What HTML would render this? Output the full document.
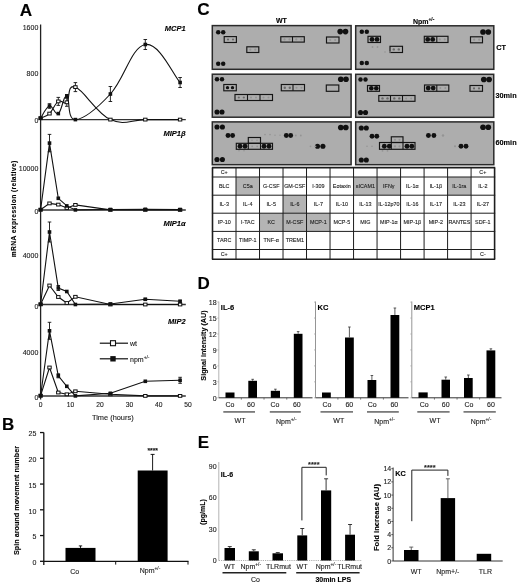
<!DOCTYPE html>
<html><head><meta charset="utf-8"><style>
html,body{margin:0;padding:0;background:#fff;}
svg{display:block;font-family:"Liberation Sans", sans-serif;}
text{stroke-width:0.12px;}
svg{filter:blur(0.4px);}
</style></head><body>
<svg width="520" height="585" viewBox="0 0 520 585">
<text x="25.90" y="15.56" text-anchor="middle" font-size="17.2" font-weight="bold" fill="#000" stroke="#000">A</text>
<line x1="40.60" y1="24.50" x2="40.60" y2="399.50" stroke="#222" stroke-width="1.3"/>
<line x1="40.60" y1="119.60" x2="185.80" y2="119.60" stroke="#333" stroke-width="1.45"/>
<text x="38.30" y="29.51" text-anchor="end" font-size="7.0" fill="#222" stroke="#222">1600</text>
<text x="38.30" y="76.01" text-anchor="end" font-size="7.0" fill="#222" stroke="#222">800</text>
<text x="38.30" y="123.01" text-anchor="end" font-size="7.0" fill="#222" stroke="#222">0</text>
<text x="185.60" y="30.68" text-anchor="end" font-size="7.5" font-weight="bold" font-style="italic" fill="#000" stroke="#000">MCP1</text>
<path d="M40.60,118.20 C42.38,117.28 45.96,116.96 49.50,113.60 C53.04,110.24 54.84,103.66 58.30,101.40 C61.76,99.14 63.38,105.16 66.80,102.30 C70.22,99.44 66.68,83.64 75.40,87.10 C84.12,90.56 96.42,113.10 110.40,119.60 C124.38,126.10 131.36,119.60 145.30,119.60 C159.24,119.60 173.14,119.60 180.10,119.60" fill="none" stroke="#111" stroke-width="1.1"/>
<path d="M40.60,118.20 C42.38,115.76 45.96,106.92 49.50,106.00 C53.04,105.08 54.84,115.60 58.30,113.60 C61.76,111.60 63.38,94.80 66.80,96.00 C70.22,97.20 66.68,120.00 75.40,119.60 C84.12,119.20 96.42,109.02 110.40,94.00 C124.38,78.98 131.36,46.80 145.30,44.50 C159.24,42.20 173.14,74.90 180.10,82.50" fill="none" stroke="#111" stroke-width="1.1"/>
<line x1="49.50" y1="103.70" x2="49.50" y2="108.30" stroke="#111" stroke-width="0.9"/>
<line x1="47.70" y1="103.70" x2="51.30" y2="103.70" stroke="#111" stroke-width="0.9"/>
<line x1="47.70" y1="108.30" x2="51.30" y2="108.30" stroke="#111" stroke-width="0.9"/>
<line x1="66.80" y1="94.50" x2="66.80" y2="97.50" stroke="#111" stroke-width="0.9"/>
<line x1="65.00" y1="94.50" x2="68.60" y2="94.50" stroke="#111" stroke-width="0.9"/>
<line x1="65.00" y1="97.50" x2="68.60" y2="97.50" stroke="#111" stroke-width="0.9"/>
<line x1="110.40" y1="86.50" x2="110.40" y2="101.50" stroke="#111" stroke-width="0.9"/>
<line x1="108.60" y1="86.50" x2="112.20" y2="86.50" stroke="#111" stroke-width="0.9"/>
<line x1="108.60" y1="101.50" x2="112.20" y2="101.50" stroke="#111" stroke-width="0.9"/>
<line x1="145.30" y1="39.50" x2="145.30" y2="49.50" stroke="#111" stroke-width="0.9"/>
<line x1="143.50" y1="39.50" x2="147.10" y2="39.50" stroke="#111" stroke-width="0.9"/>
<line x1="143.50" y1="49.50" x2="147.10" y2="49.50" stroke="#111" stroke-width="0.9"/>
<line x1="180.10" y1="77.50" x2="180.10" y2="87.50" stroke="#111" stroke-width="0.9"/>
<line x1="178.30" y1="77.50" x2="181.90" y2="77.50" stroke="#111" stroke-width="0.9"/>
<line x1="178.30" y1="87.50" x2="181.90" y2="87.50" stroke="#111" stroke-width="0.9"/>
<line x1="58.30" y1="97.40" x2="58.30" y2="105.40" stroke="#111" stroke-width="0.9"/>
<line x1="56.50" y1="97.40" x2="60.10" y2="97.40" stroke="#111" stroke-width="0.9"/>
<line x1="56.50" y1="105.40" x2="60.10" y2="105.40" stroke="#111" stroke-width="0.9"/>
<line x1="66.80" y1="98.30" x2="66.80" y2="106.30" stroke="#111" stroke-width="0.9"/>
<line x1="65.00" y1="98.30" x2="68.60" y2="98.30" stroke="#111" stroke-width="0.9"/>
<line x1="65.00" y1="106.30" x2="68.60" y2="106.30" stroke="#111" stroke-width="0.9"/>
<line x1="75.40" y1="82.60" x2="75.40" y2="91.60" stroke="#111" stroke-width="0.9"/>
<line x1="73.60" y1="82.60" x2="77.20" y2="82.60" stroke="#111" stroke-width="0.9"/>
<line x1="73.60" y1="91.60" x2="77.20" y2="91.60" stroke="#111" stroke-width="0.9"/>
<rect x="38.90" y="116.80" width="3.40" height="2.80" fill="#fff" stroke="#111" stroke-width="1.0"/>
<rect x="47.80" y="112.20" width="3.40" height="2.80" fill="#fff" stroke="#111" stroke-width="1.0"/>
<rect x="56.60" y="100.00" width="3.40" height="2.80" fill="#fff" stroke="#111" stroke-width="1.0"/>
<rect x="65.10" y="100.90" width="3.40" height="2.80" fill="#fff" stroke="#111" stroke-width="1.0"/>
<rect x="73.70" y="85.70" width="3.40" height="2.80" fill="#fff" stroke="#111" stroke-width="1.0"/>
<rect x="108.70" y="118.20" width="3.40" height="2.80" fill="#fff" stroke="#111" stroke-width="1.0"/>
<rect x="143.60" y="118.20" width="3.40" height="2.80" fill="#fff" stroke="#111" stroke-width="1.0"/>
<rect x="178.40" y="118.20" width="3.40" height="2.80" fill="#fff" stroke="#111" stroke-width="1.0"/>
<rect x="38.80" y="116.40" width="3.60" height="3.60" fill="#111"/>
<rect x="47.70" y="104.20" width="3.60" height="3.60" fill="#111"/>
<rect x="56.50" y="111.80" width="3.60" height="3.60" fill="#111"/>
<rect x="65.00" y="94.20" width="3.60" height="3.60" fill="#111"/>
<rect x="73.60" y="117.80" width="3.60" height="3.60" fill="#111"/>
<rect x="108.60" y="92.20" width="3.60" height="3.60" fill="#111"/>
<rect x="143.50" y="42.70" width="3.60" height="3.60" fill="#111"/>
<rect x="178.30" y="80.70" width="3.60" height="3.60" fill="#111"/>
<line x1="40.60" y1="209.90" x2="185.80" y2="209.90" stroke="#333" stroke-width="1.45"/>
<text x="38.30" y="170.76" text-anchor="end" font-size="7.0" fill="#222" stroke="#222">10000</text>
<text x="38.30" y="213.51" text-anchor="end" font-size="7.0" fill="#222" stroke="#222">0</text>
<text x="185.60" y="135.99" text-anchor="end" font-size="7.5" font-weight="bold" font-style="italic" fill="#000" stroke="#000">MIP1β</text>
<path d="M40.60,209.70 L49.50,203.40 L58.30,204.60 L66.80,208.00 L75.40,204.90 L110.40,209.90 L145.30,209.90 L180.10,209.90" fill="none" stroke="#111" stroke-width="1.1"/>
<path d="M40.60,209.70 L49.50,143.10 L58.30,198.30 L66.80,205.90 L75.40,209.90 L110.40,209.50 L145.30,209.30 L180.10,209.50" fill="none" stroke="#111" stroke-width="1.1"/>
<line x1="49.50" y1="134.40" x2="49.50" y2="151.80" stroke="#111" stroke-width="0.9"/>
<line x1="47.70" y1="134.40" x2="51.30" y2="134.40" stroke="#111" stroke-width="0.9"/>
<line x1="47.70" y1="151.80" x2="51.30" y2="151.80" stroke="#111" stroke-width="0.9"/>
<rect x="38.90" y="208.30" width="3.40" height="2.80" fill="#fff" stroke="#111" stroke-width="1.0"/>
<rect x="47.80" y="202.00" width="3.40" height="2.80" fill="#fff" stroke="#111" stroke-width="1.0"/>
<rect x="56.60" y="203.20" width="3.40" height="2.80" fill="#fff" stroke="#111" stroke-width="1.0"/>
<rect x="65.10" y="206.60" width="3.40" height="2.80" fill="#fff" stroke="#111" stroke-width="1.0"/>
<rect x="73.70" y="203.50" width="3.40" height="2.80" fill="#fff" stroke="#111" stroke-width="1.0"/>
<rect x="108.70" y="208.50" width="3.40" height="2.80" fill="#fff" stroke="#111" stroke-width="1.0"/>
<rect x="143.60" y="208.50" width="3.40" height="2.80" fill="#fff" stroke="#111" stroke-width="1.0"/>
<rect x="178.40" y="208.50" width="3.40" height="2.80" fill="#fff" stroke="#111" stroke-width="1.0"/>
<rect x="38.80" y="207.90" width="3.60" height="3.60" fill="#111"/>
<rect x="47.70" y="141.30" width="3.60" height="3.60" fill="#111"/>
<rect x="56.50" y="196.50" width="3.60" height="3.60" fill="#111"/>
<rect x="65.00" y="204.10" width="3.60" height="3.60" fill="#111"/>
<rect x="73.60" y="208.10" width="3.60" height="3.60" fill="#111"/>
<rect x="108.60" y="207.70" width="3.60" height="3.60" fill="#111"/>
<rect x="143.50" y="207.50" width="3.60" height="3.60" fill="#111"/>
<rect x="178.30" y="207.70" width="3.60" height="3.60" fill="#111"/>
<line x1="40.60" y1="304.50" x2="185.80" y2="304.50" stroke="#333" stroke-width="1.45"/>
<text x="38.30" y="258.26" text-anchor="end" font-size="7.0" fill="#222" stroke="#222">4000</text>
<text x="38.30" y="308.51" text-anchor="end" font-size="7.0" fill="#222" stroke="#222">0</text>
<text x="185.60" y="226.49" text-anchor="end" font-size="7.5" font-weight="bold" font-style="italic" fill="#000" stroke="#000">MIP1α</text>
<path d="M40.60,304.30 L49.50,285.50 L58.30,297.00 L66.80,303.00 L75.40,296.80 L110.40,304.50 L145.30,304.50 L180.10,304.50" fill="none" stroke="#111" stroke-width="1.1"/>
<path d="M40.60,304.30 L49.50,232.00 L58.30,288.00 L66.80,291.50 L75.40,304.50 L110.40,304.00 L145.30,299.30 L180.10,301.30" fill="none" stroke="#111" stroke-width="1.1"/>
<line x1="49.50" y1="222.00" x2="49.50" y2="242.00" stroke="#111" stroke-width="0.9"/>
<line x1="47.70" y1="222.00" x2="51.30" y2="222.00" stroke="#111" stroke-width="0.9"/>
<line x1="47.70" y1="242.00" x2="51.30" y2="242.00" stroke="#111" stroke-width="0.9"/>
<line x1="58.30" y1="285.50" x2="58.30" y2="290.50" stroke="#111" stroke-width="0.9"/>
<line x1="56.50" y1="285.50" x2="60.10" y2="285.50" stroke="#111" stroke-width="0.9"/>
<line x1="56.50" y1="290.50" x2="60.10" y2="290.50" stroke="#111" stroke-width="0.9"/>
<line x1="145.30" y1="298.30" x2="145.30" y2="300.30" stroke="#111" stroke-width="0.9"/>
<line x1="143.50" y1="298.30" x2="147.10" y2="298.30" stroke="#111" stroke-width="0.9"/>
<line x1="143.50" y1="300.30" x2="147.10" y2="300.30" stroke="#111" stroke-width="0.9"/>
<line x1="180.10" y1="300.30" x2="180.10" y2="302.30" stroke="#111" stroke-width="0.9"/>
<line x1="178.30" y1="300.30" x2="181.90" y2="300.30" stroke="#111" stroke-width="0.9"/>
<line x1="178.30" y1="302.30" x2="181.90" y2="302.30" stroke="#111" stroke-width="0.9"/>
<rect x="38.90" y="302.90" width="3.40" height="2.80" fill="#fff" stroke="#111" stroke-width="1.0"/>
<rect x="47.80" y="284.10" width="3.40" height="2.80" fill="#fff" stroke="#111" stroke-width="1.0"/>
<rect x="56.60" y="295.60" width="3.40" height="2.80" fill="#fff" stroke="#111" stroke-width="1.0"/>
<rect x="65.10" y="301.60" width="3.40" height="2.80" fill="#fff" stroke="#111" stroke-width="1.0"/>
<rect x="73.70" y="295.40" width="3.40" height="2.80" fill="#fff" stroke="#111" stroke-width="1.0"/>
<rect x="108.70" y="303.10" width="3.40" height="2.80" fill="#fff" stroke="#111" stroke-width="1.0"/>
<rect x="143.60" y="303.10" width="3.40" height="2.80" fill="#fff" stroke="#111" stroke-width="1.0"/>
<rect x="178.40" y="303.10" width="3.40" height="2.80" fill="#fff" stroke="#111" stroke-width="1.0"/>
<rect x="38.80" y="302.50" width="3.60" height="3.60" fill="#111"/>
<rect x="47.70" y="230.20" width="3.60" height="3.60" fill="#111"/>
<rect x="56.50" y="286.20" width="3.60" height="3.60" fill="#111"/>
<rect x="65.00" y="289.70" width="3.60" height="3.60" fill="#111"/>
<rect x="73.60" y="302.70" width="3.60" height="3.60" fill="#111"/>
<rect x="108.60" y="302.20" width="3.60" height="3.60" fill="#111"/>
<rect x="143.50" y="297.50" width="3.60" height="3.60" fill="#111"/>
<rect x="178.30" y="299.50" width="3.60" height="3.60" fill="#111"/>
<line x1="40.60" y1="395.90" x2="185.80" y2="395.90" stroke="#333" stroke-width="1.45"/>
<text x="38.30" y="355.01" text-anchor="end" font-size="7.0" fill="#222" stroke="#222">4000</text>
<text x="38.30" y="400.01" text-anchor="end" font-size="7.0" fill="#222" stroke="#222">0</text>
<text x="185.60" y="323.99" text-anchor="end" font-size="7.5" font-weight="bold" font-style="italic" fill="#000" stroke="#000">MIP2</text>
<path d="M40.60,395.70 L49.50,367.50 L58.30,392.50 L66.80,394.30 L75.40,391.30 L110.40,394.30 L145.30,395.90 L180.10,395.90" fill="none" stroke="#111" stroke-width="1.1"/>
<path d="M40.60,395.70 L49.50,330.80 L58.30,375.80 L66.80,386.30 L75.40,395.90 L110.40,393.30 L145.30,381.30 L180.10,380.30" fill="none" stroke="#111" stroke-width="1.1"/>
<line x1="49.50" y1="322.30" x2="49.50" y2="339.30" stroke="#111" stroke-width="0.9"/>
<line x1="47.70" y1="322.30" x2="51.30" y2="322.30" stroke="#111" stroke-width="0.9"/>
<line x1="47.70" y1="339.30" x2="51.30" y2="339.30" stroke="#111" stroke-width="0.9"/>
<line x1="58.30" y1="373.80" x2="58.30" y2="377.80" stroke="#111" stroke-width="0.9"/>
<line x1="56.50" y1="373.80" x2="60.10" y2="373.80" stroke="#111" stroke-width="0.9"/>
<line x1="56.50" y1="377.80" x2="60.10" y2="377.80" stroke="#111" stroke-width="0.9"/>
<line x1="180.10" y1="377.30" x2="180.10" y2="383.30" stroke="#111" stroke-width="0.9"/>
<line x1="178.30" y1="377.30" x2="181.90" y2="377.30" stroke="#111" stroke-width="0.9"/>
<line x1="178.30" y1="383.30" x2="181.90" y2="383.30" stroke="#111" stroke-width="0.9"/>
<rect x="38.90" y="394.30" width="3.40" height="2.80" fill="#fff" stroke="#111" stroke-width="1.0"/>
<rect x="47.80" y="366.10" width="3.40" height="2.80" fill="#fff" stroke="#111" stroke-width="1.0"/>
<rect x="56.60" y="391.10" width="3.40" height="2.80" fill="#fff" stroke="#111" stroke-width="1.0"/>
<rect x="65.10" y="392.90" width="3.40" height="2.80" fill="#fff" stroke="#111" stroke-width="1.0"/>
<rect x="73.70" y="389.90" width="3.40" height="2.80" fill="#fff" stroke="#111" stroke-width="1.0"/>
<rect x="108.70" y="392.90" width="3.40" height="2.80" fill="#fff" stroke="#111" stroke-width="1.0"/>
<rect x="143.60" y="394.50" width="3.40" height="2.80" fill="#fff" stroke="#111" stroke-width="1.0"/>
<rect x="178.40" y="394.50" width="3.40" height="2.80" fill="#fff" stroke="#111" stroke-width="1.0"/>
<rect x="38.80" y="393.90" width="3.60" height="3.60" fill="#111"/>
<rect x="47.70" y="329.00" width="3.60" height="3.60" fill="#111"/>
<rect x="56.50" y="374.00" width="3.60" height="3.60" fill="#111"/>
<rect x="65.00" y="384.50" width="3.60" height="3.60" fill="#111"/>
<rect x="73.60" y="394.10" width="3.60" height="3.60" fill="#111"/>
<rect x="108.60" y="391.50" width="3.60" height="3.60" fill="#111"/>
<rect x="143.50" y="379.50" width="3.60" height="3.60" fill="#111"/>
<rect x="178.30" y="378.50" width="3.60" height="3.60" fill="#111"/>
<text x="40.60" y="406.90" text-anchor="middle" font-size="6.7" fill="#222" stroke="#222">0</text>
<text x="70.50" y="406.90" text-anchor="middle" font-size="6.7" fill="#222" stroke="#222">10</text>
<text x="100.00" y="406.90" text-anchor="middle" font-size="6.7" fill="#222" stroke="#222">20</text>
<text x="129.50" y="406.90" text-anchor="middle" font-size="6.7" fill="#222" stroke="#222">30</text>
<text x="158.80" y="406.90" text-anchor="middle" font-size="6.7" fill="#222" stroke="#222">40</text>
<text x="188.00" y="406.90" text-anchor="middle" font-size="6.7" fill="#222" stroke="#222">50</text>
<text x="112.80" y="419.65" text-anchor="middle" font-size="7.4" fill="#222" stroke="#222">Time (hours)</text>
<text transform="translate(15.70,209.00) rotate(-90)" x="0" y="0" text-anchor="middle" font-size="6.7" font-weight="bold" fill="#000" stroke="#000" textLength="96.5" lengthAdjust="spacing">mRNA expression (relative)</text>
<line x1="99.80" y1="343.20" x2="128.00" y2="343.20" stroke="#111" stroke-width="1.2"/>
<rect x="110.50" y="340.70" width="5.00" height="5.00" fill="#fff" stroke="#111" stroke-width="1.1"/>
<text x="130.00" y="345.51" text-anchor="start" font-size="7.0" fill="#222" stroke="#222">wt</text>
<line x1="99.80" y1="358.80" x2="128.00" y2="358.80" stroke="#111" stroke-width="1.2"/>
<rect x="110.30" y="356.10" width="5.40" height="5.40" fill="#111"/>
<text x="130.00" y="362.01" text-anchor="start" font-size="7.0" fill="#222" stroke="#222">npm<tspan font-size="4.8" dy="-2.7">+/-</tspan></text>
<text x="8.20" y="430.49" text-anchor="middle" font-size="17.0" font-weight="bold" fill="#000" stroke="#000">B</text>
<line x1="43.80" y1="432.50" x2="43.80" y2="565.00" stroke="#111" stroke-width="1.3"/>
<line x1="43.80" y1="561.30" x2="188.50" y2="561.30" stroke="#111" stroke-width="1.3"/>
<line x1="40.00" y1="561.30" x2="43.80" y2="561.30" stroke="#111" stroke-width="1.3"/>
<text x="36.30" y="565.01" text-anchor="end" font-size="7.0" fill="#222" stroke="#222">0</text>
<line x1="40.00" y1="535.55" x2="43.80" y2="535.55" stroke="#111" stroke-width="1.3"/>
<text x="36.30" y="539.26" text-anchor="end" font-size="7.0" fill="#222" stroke="#222">5</text>
<line x1="40.00" y1="509.80" x2="43.80" y2="509.80" stroke="#111" stroke-width="1.3"/>
<text x="36.30" y="513.51" text-anchor="end" font-size="7.0" fill="#222" stroke="#222">10</text>
<line x1="40.00" y1="484.05" x2="43.80" y2="484.05" stroke="#111" stroke-width="1.3"/>
<text x="36.30" y="487.76" text-anchor="end" font-size="7.0" fill="#222" stroke="#222">15</text>
<line x1="40.00" y1="458.30" x2="43.80" y2="458.30" stroke="#111" stroke-width="1.3"/>
<text x="36.30" y="462.01" text-anchor="end" font-size="7.0" fill="#222" stroke="#222">20</text>
<line x1="40.00" y1="432.55" x2="43.80" y2="432.55" stroke="#111" stroke-width="1.3"/>
<text x="36.30" y="436.26" text-anchor="end" font-size="7.0" fill="#222" stroke="#222">25</text>
<line x1="115.70" y1="561.30" x2="115.70" y2="564.60" stroke="#111" stroke-width="1.0"/>
<line x1="188.00" y1="561.30" x2="188.00" y2="564.60" stroke="#111" stroke-width="1.0"/>
<rect x="65.50" y="547.91" width="30.00" height="13.39" fill="#000"/>
<line x1="80.50" y1="547.91" x2="80.50" y2="545.91" stroke="#000" stroke-width="0.9"/>
<line x1="78.80" y1="545.91" x2="82.20" y2="545.91" stroke="#000" stroke-width="0.9"/>
<rect x="137.70" y="470.50" width="29.90" height="90.80" fill="#000"/>
<line x1="152.60" y1="470.50" x2="152.60" y2="454.40" stroke="#000" stroke-width="0.9"/>
<line x1="150.60" y1="454.40" x2="154.60" y2="454.40" stroke="#000" stroke-width="0.9"/>
<text x="152.70" y="453.23" text-anchor="middle" font-size="6.8" font-weight="bold" fill="#111" stroke="#111">****</text>
<text x="74.80" y="573.71" text-anchor="middle" font-size="7.0" fill="#222" stroke="#222">Co</text>
<text x="150.00" y="573.11" text-anchor="middle" font-size="7.0" fill="#222" stroke="#222">Npm<tspan font-size="4.8" dy="-2.7">+/-</tspan></text>
<text transform="translate(19.20,500.50) rotate(-90)" x="0" y="0" text-anchor="middle" font-size="7.25" font-weight="bold" fill="#000" stroke="#000">Spin around movement number</text>
<text x="203.50" y="15.36" text-anchor="middle" font-size="17.2" font-weight="bold" fill="#000" stroke="#000">C</text>
<text x="281.40" y="23.31" text-anchor="middle" font-size="7.0" font-weight="bold" fill="#000" stroke="#000">WT</text>
<text x="413.00" y="23.71" text-anchor="start" font-size="7.0" font-weight="bold" fill="#000" stroke="#000">Npm<tspan font-size="4.8" dy="-2.7">+/-</tspan></text>
<rect x="212.30" y="25.60" width="138.80" height="43.70" fill="#adadad" stroke="#2a2a2a" stroke-width="1.5"/>
<rect x="355.70" y="25.80" width="138.10" height="43.50" fill="#adadad" stroke="#2a2a2a" stroke-width="1.5"/>
<rect x="212.30" y="74.20" width="138.80" height="43.00" fill="#adadad" stroke="#2a2a2a" stroke-width="1.5"/>
<rect x="355.70" y="74.30" width="138.00" height="43.00" fill="#adadad" stroke="#2a2a2a" stroke-width="1.5"/>
<rect x="212.30" y="121.90" width="138.80" height="42.80" fill="#adadad" stroke="#2a2a2a" stroke-width="1.5"/>
<rect x="355.70" y="121.90" width="138.10" height="42.80" fill="#adadad" stroke="#2a2a2a" stroke-width="1.5"/>
<text x="496.20" y="50.11" text-anchor="start" font-size="7.3" font-weight="bold" fill="#000" stroke="#000">CT</text>
<text x="495.50" y="97.61" text-anchor="start" font-size="7.3" font-weight="bold" fill="#000" stroke="#000">30min</text>
<text x="495.50" y="145.01" text-anchor="start" font-size="7.3" font-weight="bold" fill="#000" stroke="#000">60min</text>
<circle cx="218.20" cy="32.20" r="2.24" fill="#111"/>
<circle cx="223.20" cy="32.20" r="2.24" fill="#111"/>
<circle cx="340.20" cy="31.60" r="2.82" fill="#111"/>
<circle cx="345.50" cy="31.60" r="2.82" fill="#111"/>
<circle cx="218.20" cy="63.70" r="2.24" fill="#111"/>
<circle cx="223.20" cy="63.70" r="2.24" fill="#111"/>
<circle cx="228.00" cy="39.50" r="1.10" fill="#6a6a6a"/>
<circle cx="233.00" cy="39.50" r="1.10" fill="#6a6a6a"/>
<rect x="224.20" y="36.60" width="12.20" height="5.90" fill="none" stroke="#141414" stroke-width="1.15"/>
<circle cx="250.30" cy="49.70" r="1.10" fill="#949494"/>
<circle cx="255.30" cy="49.70" r="1.10" fill="#949494"/>
<rect x="246.80" y="46.80" width="12.00" height="5.70" fill="none" stroke="#141414" stroke-width="1.15"/>
<circle cx="284.50" cy="39.40" r="1.10" fill="#949494"/>
<circle cx="289.50" cy="39.40" r="1.10" fill="#949494"/>
<circle cx="296.30" cy="39.40" r="1.10" fill="#949494"/>
<circle cx="301.30" cy="39.40" r="1.10" fill="#949494"/>
<rect x="280.80" y="36.70" width="23.50" height="5.40" fill="none" stroke="#141414" stroke-width="1.15"/>
<line x1="292.50" y1="36.70" x2="292.50" y2="42.10" stroke="#141414" stroke-width="1.1"/>
<circle cx="330.20" cy="40.00" r="1.10" fill="#949494"/>
<circle cx="335.20" cy="40.00" r="1.10" fill="#949494"/>
<rect x="326.50" y="37.00" width="12.50" height="6.00" fill="none" stroke="#141414" stroke-width="1.15"/>
<circle cx="361.80" cy="31.80" r="2.24" fill="#111"/>
<circle cx="366.80" cy="31.80" r="2.24" fill="#111"/>
<circle cx="483.00" cy="32.00" r="2.82" fill="#111"/>
<circle cx="488.30" cy="32.00" r="2.82" fill="#111"/>
<circle cx="361.80" cy="63.00" r="2.24" fill="#111"/>
<circle cx="366.80" cy="63.00" r="2.24" fill="#111"/>
<circle cx="372.00" cy="39.40" r="2.43" fill="#111"/>
<circle cx="377.00" cy="39.40" r="2.43" fill="#111"/>
<rect x="368.00" y="36.30" width="12.50" height="6.20" fill="none" stroke="#141414" stroke-width="1.15"/>
<circle cx="393.80" cy="49.40" r="1.20" fill="#6a6a6a"/>
<circle cx="398.80" cy="49.40" r="1.20" fill="#6a6a6a"/>
<rect x="390.00" y="46.30" width="12.50" height="6.20" fill="none" stroke="#141414" stroke-width="1.15"/>
<circle cx="427.70" cy="39.40" r="2.43" fill="#111"/>
<circle cx="432.70" cy="39.40" r="2.43" fill="#111"/>
<circle cx="439.80" cy="39.40" r="1.10" fill="#949494"/>
<circle cx="444.80" cy="39.40" r="1.10" fill="#949494"/>
<rect x="424.30" y="36.30" width="23.70" height="6.20" fill="none" stroke="#141414" stroke-width="1.15"/>
<line x1="436.80" y1="36.30" x2="436.80" y2="42.50" stroke="#141414" stroke-width="1.1"/>
<circle cx="474.20" cy="39.70" r="1.10" fill="#949494"/>
<circle cx="479.20" cy="39.70" r="1.10" fill="#949494"/>
<rect x="470.50" y="36.80" width="12.00" height="6.00" fill="none" stroke="#141414" stroke-width="1.15"/>
<circle cx="372.50" cy="47.00" r="0.90" fill="#949494"/>
<circle cx="377.50" cy="47.00" r="0.90" fill="#949494"/>
<circle cx="385.00" cy="52.00" r="0.80" fill="#949494"/>
<circle cx="390.00" cy="52.00" r="0.80" fill="#949494"/>
<circle cx="217.00" cy="79.30" r="2.24" fill="#111"/>
<circle cx="222.00" cy="79.30" r="2.24" fill="#111"/>
<circle cx="340.80" cy="79.30" r="2.82" fill="#111"/>
<circle cx="346.00" cy="79.30" r="2.82" fill="#111"/>
<circle cx="217.00" cy="112.00" r="2.56" fill="#111"/>
<circle cx="222.00" cy="112.00" r="2.56" fill="#111"/>
<circle cx="227.50" cy="87.70" r="1.66" fill="#111"/>
<circle cx="232.50" cy="87.70" r="1.66" fill="#111"/>
<rect x="223.80" y="84.50" width="12.50" height="6.30" fill="none" stroke="#141414" stroke-width="1.15"/>
<circle cx="238.80" cy="97.50" r="1.10" fill="#6a6a6a"/>
<circle cx="243.80" cy="97.50" r="1.10" fill="#6a6a6a"/>
<circle cx="251.00" cy="97.50" r="1.00" fill="#949494"/>
<circle cx="256.00" cy="97.50" r="1.00" fill="#949494"/>
<circle cx="263.50" cy="97.50" r="1.00" fill="#949494"/>
<circle cx="268.50" cy="97.50" r="1.00" fill="#949494"/>
<rect x="235.00" y="94.50" width="37.50" height="6.00" fill="none" stroke="#141414" stroke-width="1.15"/>
<line x1="247.50" y1="94.50" x2="247.50" y2="100.50" stroke="#141414" stroke-width="1.1"/>
<line x1="260.00" y1="94.50" x2="260.00" y2="100.50" stroke="#141414" stroke-width="1.1"/>
<circle cx="284.80" cy="87.70" r="1.20" fill="#6a6a6a"/>
<circle cx="289.80" cy="87.70" r="1.20" fill="#6a6a6a"/>
<circle cx="296.50" cy="87.70" r="1.00" fill="#949494"/>
<circle cx="301.50" cy="87.70" r="1.00" fill="#949494"/>
<rect x="281.30" y="84.50" width="23.20" height="6.30" fill="none" stroke="#141414" stroke-width="1.15"/>
<line x1="293.00" y1="84.50" x2="293.00" y2="90.80" stroke="#141414" stroke-width="1.1"/>
<rect x="326.30" y="85.00" width="12.50" height="6.30" fill="none" stroke="#141414" stroke-width="1.15"/>
<circle cx="360.50" cy="79.50" r="2.24" fill="#111"/>
<circle cx="365.50" cy="79.50" r="2.24" fill="#111"/>
<circle cx="483.80" cy="79.50" r="2.82" fill="#111"/>
<circle cx="489.10" cy="79.50" r="2.82" fill="#111"/>
<circle cx="360.50" cy="112.50" r="2.56" fill="#111"/>
<circle cx="365.50" cy="112.50" r="2.56" fill="#111"/>
<circle cx="371.30" cy="88.30" r="2.30" fill="#111"/>
<circle cx="376.30" cy="88.30" r="2.30" fill="#111"/>
<rect x="367.50" y="85.50" width="12.00" height="5.80" fill="none" stroke="#141414" stroke-width="1.15"/>
<circle cx="382.50" cy="98.40" r="1.20" fill="#6a6a6a"/>
<circle cx="387.50" cy="98.40" r="1.20" fill="#6a6a6a"/>
<circle cx="394.30" cy="98.40" r="1.20" fill="#6a6a6a"/>
<circle cx="399.30" cy="98.40" r="1.20" fill="#6a6a6a"/>
<circle cx="406.20" cy="98.40" r="1.00" fill="#949494"/>
<circle cx="411.20" cy="98.40" r="1.00" fill="#949494"/>
<rect x="378.80" y="95.50" width="36.20" height="5.80" fill="none" stroke="#141414" stroke-width="1.15"/>
<line x1="390.50" y1="95.50" x2="390.50" y2="101.30" stroke="#141414" stroke-width="1.1"/>
<line x1="402.50" y1="95.50" x2="402.50" y2="101.30" stroke="#141414" stroke-width="1.1"/>
<circle cx="428.20" cy="88.10" r="2.43" fill="#111"/>
<circle cx="433.20" cy="88.10" r="2.43" fill="#111"/>
<circle cx="440.30" cy="88.10" r="1.00" fill="#949494"/>
<circle cx="445.30" cy="88.10" r="1.00" fill="#949494"/>
<rect x="424.50" y="85.00" width="24.30" height="6.30" fill="none" stroke="#141414" stroke-width="1.15"/>
<line x1="436.80" y1="85.00" x2="436.80" y2="91.30" stroke="#141414" stroke-width="1.1"/>
<circle cx="474.00" cy="88.40" r="1.10" fill="#6a6a6a"/>
<circle cx="479.00" cy="88.40" r="1.10" fill="#6a6a6a"/>
<rect x="470.00" y="85.50" width="12.50" height="5.80" fill="none" stroke="#141414" stroke-width="1.15"/>
<circle cx="217.00" cy="127.00" r="2.56" fill="#111"/>
<circle cx="222.40" cy="127.00" r="2.56" fill="#111"/>
<circle cx="340.80" cy="127.50" r="2.82" fill="#111"/>
<circle cx="345.80" cy="127.50" r="2.82" fill="#111"/>
<circle cx="217.00" cy="159.50" r="2.56" fill="#111"/>
<circle cx="222.40" cy="159.50" r="2.56" fill="#111"/>
<circle cx="228.00" cy="135.50" r="2.43" fill="#111"/>
<circle cx="232.60" cy="135.50" r="2.43" fill="#111"/>
<circle cx="240.00" cy="146.30" r="2.43" fill="#111"/>
<circle cx="245.00" cy="146.30" r="2.43" fill="#111"/>
<circle cx="264.00" cy="146.30" r="2.43" fill="#111"/>
<circle cx="269.00" cy="146.30" r="2.43" fill="#111"/>
<circle cx="252.20" cy="146.30" r="0.90" fill="#949494"/>
<circle cx="257.20" cy="146.30" r="0.90" fill="#949494"/>
<rect x="248.30" y="137.50" width="12.20" height="5.80" fill="none" stroke="#141414" stroke-width="1.15"/>
<rect x="236.30" y="143.30" width="36.20" height="6.00" fill="none" stroke="#141414" stroke-width="1.15"/>
<line x1="248.30" y1="143.30" x2="248.30" y2="149.30" stroke="#141414" stroke-width="1.1"/>
<line x1="260.50" y1="143.30" x2="260.50" y2="149.30" stroke="#141414" stroke-width="1.1"/>
<circle cx="286.30" cy="135.50" r="2.43" fill="#111"/>
<circle cx="290.70" cy="135.50" r="2.43" fill="#111"/>
<circle cx="295.80" cy="135.50" r="0.90" fill="#949494"/>
<circle cx="300.80" cy="135.50" r="0.90" fill="#949494"/>
<circle cx="317.50" cy="146.30" r="2.56" fill="#111"/>
<circle cx="322.90" cy="146.30" r="2.56" fill="#111"/>
<circle cx="310.50" cy="146.30" r="0.90" fill="#949494"/>
<circle cx="315.50" cy="146.30" r="0.90" fill="#949494"/>
<circle cx="239.00" cy="150.80" r="0.80" fill="#949494"/>
<circle cx="244.00" cy="150.80" r="0.80" fill="#949494"/>
<circle cx="252.00" cy="140.30" r="0.80" fill="#949494"/>
<circle cx="257.00" cy="140.30" r="0.80" fill="#949494"/>
<circle cx="265.00" cy="134.60" r="0.80" fill="#949494"/>
<circle cx="270.00" cy="134.60" r="0.80" fill="#949494"/>
<circle cx="275.00" cy="135.20" r="0.70" fill="#949494"/>
<circle cx="280.00" cy="135.20" r="0.70" fill="#949494"/>
<circle cx="361.30" cy="128.00" r="2.56" fill="#111"/>
<circle cx="366.30" cy="128.00" r="2.56" fill="#111"/>
<circle cx="483.00" cy="127.30" r="2.82" fill="#111"/>
<circle cx="488.30" cy="127.30" r="2.82" fill="#111"/>
<circle cx="361.30" cy="160.00" r="2.56" fill="#111"/>
<circle cx="366.30" cy="160.00" r="2.56" fill="#111"/>
<circle cx="372.00" cy="136.30" r="2.43" fill="#111"/>
<circle cx="376.80" cy="136.30" r="2.43" fill="#111"/>
<circle cx="395.00" cy="139.70" r="1.00" fill="#949494"/>
<circle cx="399.50" cy="139.70" r="1.00" fill="#949494"/>
<rect x="391.30" y="136.80" width="11.70" height="5.70" fill="none" stroke="#141414" stroke-width="1.15"/>
<circle cx="384.30" cy="146.30" r="2.43" fill="#111"/>
<circle cx="389.30" cy="146.30" r="2.43" fill="#111"/>
<circle cx="395.00" cy="146.30" r="1.10" fill="#949494"/>
<circle cx="399.50" cy="146.30" r="1.10" fill="#949494"/>
<circle cx="407.00" cy="146.30" r="2.43" fill="#111"/>
<circle cx="411.80" cy="146.30" r="2.43" fill="#111"/>
<rect x="379.50" y="142.50" width="35.50" height="6.80" fill="none" stroke="#141414" stroke-width="1.15"/>
<line x1="391.30" y1="142.50" x2="391.30" y2="149.30" stroke="#141414" stroke-width="1.1"/>
<line x1="403.00" y1="142.50" x2="403.00" y2="149.30" stroke="#141414" stroke-width="1.1"/>
<circle cx="428.40" cy="135.50" r="2.43" fill="#111"/>
<circle cx="433.90" cy="135.50" r="2.43" fill="#111"/>
<circle cx="443.00" cy="135.50" r="1.20" fill="#949494"/>
<circle cx="461.00" cy="146.20" r="2.43" fill="#111"/>
<circle cx="466.00" cy="146.20" r="2.43" fill="#111"/>
<circle cx="455.00" cy="146.20" r="1.00" fill="#949494"/>
<circle cx="382.50" cy="150.80" r="0.90" fill="#949494"/>
<circle cx="387.50" cy="150.80" r="0.90" fill="#949494"/>
<circle cx="367.00" cy="146.30" r="0.80" fill="#949494"/>
<circle cx="372.00" cy="146.30" r="0.80" fill="#949494"/>
<rect x="306.53" y="213.20" width="23.51" height="18.20" fill="#b4b4b4"/>
<rect x="236.01" y="177.00" width="23.51" height="18.20" fill="#b4b4b4"/>
<rect x="283.02" y="195.20" width="23.51" height="18.00" fill="#b4b4b4"/>
<rect x="377.06" y="177.00" width="23.51" height="18.20" fill="#b4b4b4"/>
<rect x="283.02" y="213.20" width="23.51" height="18.20" fill="#b4b4b4"/>
<rect x="447.58" y="177.00" width="23.51" height="18.20" fill="#b4b4b4"/>
<rect x="353.55" y="177.00" width="23.51" height="18.20" fill="#b4b4b4"/>
<rect x="259.52" y="213.20" width="23.51" height="18.20" fill="#b4b4b4"/>
<line x1="211.90" y1="167.60" x2="495.20" y2="167.60" stroke="#1e1e1e" stroke-width="1.6"/>
<line x1="211.90" y1="177.00" x2="495.20" y2="177.00" stroke="#1e1e1e" stroke-width="1.0"/>
<line x1="211.90" y1="195.20" x2="495.20" y2="195.20" stroke="#1e1e1e" stroke-width="1.0"/>
<line x1="211.90" y1="213.20" x2="495.20" y2="213.20" stroke="#1e1e1e" stroke-width="1.0"/>
<line x1="211.90" y1="231.40" x2="495.20" y2="231.40" stroke="#1e1e1e" stroke-width="1.0"/>
<line x1="211.90" y1="249.50" x2="495.20" y2="249.50" stroke="#1e1e1e" stroke-width="1.0"/>
<line x1="211.90" y1="259.20" x2="495.20" y2="259.20" stroke="#1e1e1e" stroke-width="1.6"/>
<line x1="212.50" y1="167.60" x2="212.50" y2="259.20" stroke="#1e1e1e" stroke-width="1.6"/>
<line x1="236.01" y1="167.60" x2="236.01" y2="259.20" stroke="#1e1e1e" stroke-width="1.0"/>
<line x1="259.52" y1="167.60" x2="259.52" y2="259.20" stroke="#1e1e1e" stroke-width="1.0"/>
<line x1="283.02" y1="167.60" x2="283.02" y2="259.20" stroke="#1e1e1e" stroke-width="1.0"/>
<line x1="306.53" y1="167.60" x2="306.53" y2="259.20" stroke="#1e1e1e" stroke-width="1.0"/>
<line x1="330.04" y1="167.60" x2="330.04" y2="259.20" stroke="#1e1e1e" stroke-width="1.0"/>
<line x1="353.55" y1="167.60" x2="353.55" y2="259.20" stroke="#1e1e1e" stroke-width="1.0"/>
<line x1="377.06" y1="167.60" x2="377.06" y2="259.20" stroke="#1e1e1e" stroke-width="1.0"/>
<line x1="400.57" y1="167.60" x2="400.57" y2="259.20" stroke="#1e1e1e" stroke-width="1.0"/>
<line x1="424.08" y1="167.60" x2="424.08" y2="259.20" stroke="#1e1e1e" stroke-width="1.0"/>
<line x1="447.58" y1="167.60" x2="447.58" y2="259.20" stroke="#1e1e1e" stroke-width="1.0"/>
<line x1="471.09" y1="167.60" x2="471.09" y2="259.20" stroke="#1e1e1e" stroke-width="1.0"/>
<line x1="494.60" y1="167.60" x2="494.60" y2="259.20" stroke="#1e1e1e" stroke-width="1.6"/>
<text x="224.25" y="174.23" text-anchor="middle" font-size="5.4" fill="#222" stroke="#222">C+</text>
<text x="482.85" y="174.23" text-anchor="middle" font-size="5.4" fill="#222" stroke="#222">C+</text>
<text x="224.25" y="188.03" text-anchor="middle" font-size="5.4" fill="#222" stroke="#222">BLC</text>
<text x="247.76" y="188.03" text-anchor="middle" font-size="5.4" fill="#222" stroke="#222">C5a</text>
<text x="271.27" y="188.03" text-anchor="middle" font-size="5.4" fill="#222" stroke="#222">G-CSF</text>
<text x="294.78" y="188.03" text-anchor="middle" font-size="5.4" fill="#222" stroke="#222">GM-CSF</text>
<text x="318.29" y="188.03" text-anchor="middle" font-size="5.4" fill="#222" stroke="#222">I-309</text>
<text x="341.80" y="188.03" text-anchor="middle" font-size="5.4" fill="#222" stroke="#222">Eotaxin</text>
<text x="365.30" y="188.03" text-anchor="middle" font-size="5.4" fill="#222" stroke="#222">sICAM1</text>
<text x="388.81" y="188.03" text-anchor="middle" font-size="5.4" fill="#222" stroke="#222">IFNγ</text>
<text x="412.32" y="188.03" text-anchor="middle" font-size="5.4" fill="#222" stroke="#222">IL-1α</text>
<text x="435.83" y="188.03" text-anchor="middle" font-size="5.4" fill="#222" stroke="#222">IL-1β</text>
<text x="459.34" y="188.03" text-anchor="middle" font-size="5.4" fill="#222" stroke="#222">IL-1ra</text>
<text x="482.85" y="188.03" text-anchor="middle" font-size="5.4" fill="#222" stroke="#222">IL-2</text>
<text x="224.25" y="206.13" text-anchor="middle" font-size="5.4" fill="#222" stroke="#222">IL-3</text>
<text x="247.76" y="206.13" text-anchor="middle" font-size="5.4" fill="#222" stroke="#222">IL-4</text>
<text x="271.27" y="206.13" text-anchor="middle" font-size="5.4" fill="#222" stroke="#222">IL-5</text>
<text x="294.78" y="206.13" text-anchor="middle" font-size="5.4" fill="#222" stroke="#222">IL-6</text>
<text x="318.29" y="206.13" text-anchor="middle" font-size="5.4" fill="#222" stroke="#222">IL-7</text>
<text x="341.80" y="206.13" text-anchor="middle" font-size="5.4" fill="#222" stroke="#222">IL-10</text>
<text x="365.30" y="206.13" text-anchor="middle" font-size="5.4" fill="#222" stroke="#222">IL-13</text>
<text x="388.81" y="206.13" text-anchor="middle" font-size="5.4" fill="#222" stroke="#222">IL-12p70</text>
<text x="412.32" y="206.13" text-anchor="middle" font-size="5.4" fill="#222" stroke="#222">IL-16</text>
<text x="435.83" y="206.13" text-anchor="middle" font-size="5.4" fill="#222" stroke="#222">IL-17</text>
<text x="459.34" y="206.13" text-anchor="middle" font-size="5.4" fill="#222" stroke="#222">IL-23</text>
<text x="482.85" y="206.13" text-anchor="middle" font-size="5.4" fill="#222" stroke="#222">IL-27</text>
<text x="224.25" y="224.23" text-anchor="middle" font-size="5.4" fill="#222" stroke="#222">IP-10</text>
<text x="247.76" y="224.23" text-anchor="middle" font-size="5.4" fill="#222" stroke="#222">I-TAC</text>
<text x="271.27" y="224.23" text-anchor="middle" font-size="5.4" fill="#222" stroke="#222">KC</text>
<text x="294.78" y="224.23" text-anchor="middle" font-size="5.4" fill="#222" stroke="#222">M-CSF</text>
<text x="318.29" y="224.23" text-anchor="middle" font-size="5.4" fill="#222" stroke="#222">MCP-1</text>
<text x="341.80" y="224.23" text-anchor="middle" font-size="5.4" fill="#222" stroke="#222">MCP-5</text>
<text x="365.30" y="224.23" text-anchor="middle" font-size="5.4" fill="#222" stroke="#222">MIG</text>
<text x="388.81" y="224.23" text-anchor="middle" font-size="5.4" fill="#222" stroke="#222">MIP-1α</text>
<text x="412.32" y="224.23" text-anchor="middle" font-size="5.4" fill="#222" stroke="#222">MIP-1β</text>
<text x="435.83" y="224.23" text-anchor="middle" font-size="5.4" fill="#222" stroke="#222">MIP-2</text>
<text x="459.34" y="224.23" text-anchor="middle" font-size="5.4" fill="#222" stroke="#222">RANTES</text>
<text x="482.85" y="224.23" text-anchor="middle" font-size="5.4" fill="#222" stroke="#222">SDF-1</text>
<text x="224.25" y="242.38" text-anchor="middle" font-size="5.4" fill="#222" stroke="#222">TARC</text>
<text x="247.76" y="242.38" text-anchor="middle" font-size="5.4" fill="#222" stroke="#222">TIMP-1</text>
<text x="271.27" y="242.38" text-anchor="middle" font-size="5.4" fill="#222" stroke="#222">TNF-α</text>
<text x="294.78" y="242.38" text-anchor="middle" font-size="5.4" fill="#222" stroke="#222">TREM1</text>
<text x="224.25" y="256.28" text-anchor="middle" font-size="5.4" fill="#222" stroke="#222">C+</text>
<text x="482.85" y="256.28" text-anchor="middle" font-size="5.4" fill="#222" stroke="#222">C-</text>
<text x="203.70" y="288.59" text-anchor="middle" font-size="17.0" font-weight="bold" fill="#000" stroke="#000">D</text>
<line x1="218.80" y1="301.50" x2="218.80" y2="397.80" stroke="#a0a0a0" stroke-width="0.8"/>
<line x1="218.80" y1="397.80" x2="312.50" y2="397.80" stroke="#333" stroke-width="1.0"/>
<line x1="217.30" y1="397.80" x2="218.80" y2="397.80" stroke="#a0a0a0" stroke-width="0.7"/>
<text x="216.60" y="401.01" text-anchor="end" font-size="7.0" fill="#222" stroke="#222">0</text>
<line x1="217.30" y1="381.85" x2="218.80" y2="381.85" stroke="#a0a0a0" stroke-width="0.7"/>
<text x="216.60" y="385.06" text-anchor="end" font-size="7.0" fill="#222" stroke="#222">3</text>
<line x1="217.30" y1="365.90" x2="218.80" y2="365.90" stroke="#a0a0a0" stroke-width="0.7"/>
<text x="216.60" y="369.11" text-anchor="end" font-size="7.0" fill="#222" stroke="#222">6</text>
<line x1="217.30" y1="349.95" x2="218.80" y2="349.95" stroke="#a0a0a0" stroke-width="0.7"/>
<text x="216.60" y="353.16" text-anchor="end" font-size="7.0" fill="#222" stroke="#222">9</text>
<line x1="217.30" y1="334.00" x2="218.80" y2="334.00" stroke="#a0a0a0" stroke-width="0.7"/>
<text x="216.60" y="337.21" text-anchor="end" font-size="7.0" fill="#222" stroke="#222">12</text>
<line x1="217.30" y1="318.05" x2="218.80" y2="318.05" stroke="#a0a0a0" stroke-width="0.7"/>
<text x="216.60" y="321.26" text-anchor="end" font-size="7.0" fill="#222" stroke="#222">15</text>
<line x1="217.30" y1="302.10" x2="218.80" y2="302.10" stroke="#a0a0a0" stroke-width="0.7"/>
<text x="216.60" y="305.31" text-anchor="end" font-size="7.0" fill="#222" stroke="#222">18</text>
<rect x="225.50" y="392.50" width="9.00" height="5.30" fill="#000"/>
<rect x="248.30" y="380.80" width="8.70" height="17.00" fill="#000"/>
<line x1="252.65" y1="380.80" x2="252.65" y2="379.30" stroke="#333" stroke-width="0.8"/>
<line x1="251.35" y1="379.30" x2="253.95" y2="379.30" stroke="#333" stroke-width="0.8"/>
<rect x="270.80" y="390.80" width="9.20" height="7.00" fill="#000"/>
<line x1="275.40" y1="390.80" x2="275.40" y2="389.20" stroke="#333" stroke-width="0.8"/>
<line x1="274.10" y1="389.20" x2="276.70" y2="389.20" stroke="#333" stroke-width="0.8"/>
<rect x="293.80" y="333.80" width="8.70" height="64.00" fill="#000"/>
<line x1="298.15" y1="333.80" x2="298.15" y2="331.60" stroke="#333" stroke-width="0.8"/>
<line x1="296.85" y1="331.60" x2="299.45" y2="331.60" stroke="#333" stroke-width="0.8"/>
<line x1="241.32" y1="397.80" x2="241.32" y2="399.60" stroke="#555" stroke-width="0.8"/>
<line x1="264.02" y1="397.80" x2="264.02" y2="399.60" stroke="#555" stroke-width="0.8"/>
<line x1="286.77" y1="397.80" x2="286.77" y2="399.60" stroke="#555" stroke-width="0.8"/>
<text x="230.00" y="407.11" text-anchor="middle" font-size="7.0" fill="#222" stroke="#222">Co</text>
<text x="250.90" y="407.11" text-anchor="middle" font-size="7.0" fill="#222" stroke="#222">60</text>
<text x="275.00" y="407.11" text-anchor="middle" font-size="7.0" fill="#222" stroke="#222">Co</text>
<text x="296.80" y="407.11" text-anchor="middle" font-size="7.0" fill="#222" stroke="#222">60</text>
<line x1="223.30" y1="411.90" x2="255.00" y2="411.90" stroke="#7a7a7a" stroke-width="1.8"/>
<line x1="269.80" y1="411.90" x2="300.80" y2="411.90" stroke="#7a7a7a" stroke-width="1.8"/>
<text x="240.00" y="423.41" text-anchor="middle" font-size="7.0" fill="#222" stroke="#222">WT</text>
<text x="286.30" y="423.51" text-anchor="middle" font-size="7.0" fill="#222" stroke="#222">Npm<tspan font-size="4.8" dy="-2.7">+/-</tspan></text>
<text x="220.80" y="309.69" text-anchor="start" font-size="7.5" font-weight="bold" fill="#000" stroke="#000">IL-6</text>
<line x1="315.50" y1="301.50" x2="315.50" y2="397.80" stroke="#7a7a7a" stroke-width="0.8"/>
<line x1="315.50" y1="397.80" x2="408.50" y2="397.80" stroke="#333" stroke-width="1.0"/>
<line x1="314.00" y1="397.80" x2="315.50" y2="397.80" stroke="#a0a0a0" stroke-width="0.7"/>
<line x1="314.00" y1="381.85" x2="315.50" y2="381.85" stroke="#a0a0a0" stroke-width="0.7"/>
<line x1="314.00" y1="365.90" x2="315.50" y2="365.90" stroke="#a0a0a0" stroke-width="0.7"/>
<line x1="314.00" y1="349.95" x2="315.50" y2="349.95" stroke="#a0a0a0" stroke-width="0.7"/>
<line x1="314.00" y1="334.00" x2="315.50" y2="334.00" stroke="#a0a0a0" stroke-width="0.7"/>
<line x1="314.00" y1="318.05" x2="315.50" y2="318.05" stroke="#a0a0a0" stroke-width="0.7"/>
<line x1="314.00" y1="302.10" x2="315.50" y2="302.10" stroke="#a0a0a0" stroke-width="0.7"/>
<rect x="322.00" y="392.50" width="8.80" height="5.30" fill="#000"/>
<rect x="345.00" y="337.50" width="8.80" height="60.30" fill="#000"/>
<line x1="349.40" y1="337.50" x2="349.40" y2="327.00" stroke="#333" stroke-width="0.8"/>
<line x1="348.10" y1="327.00" x2="350.70" y2="327.00" stroke="#333" stroke-width="0.8"/>
<rect x="367.50" y="380.00" width="8.80" height="17.80" fill="#000"/>
<line x1="371.90" y1="380.00" x2="371.90" y2="375.50" stroke="#333" stroke-width="0.8"/>
<line x1="370.60" y1="375.50" x2="373.20" y2="375.50" stroke="#333" stroke-width="0.8"/>
<rect x="390.50" y="315.00" width="8.80" height="82.80" fill="#000"/>
<line x1="394.90" y1="315.00" x2="394.90" y2="308.00" stroke="#333" stroke-width="0.8"/>
<line x1="393.60" y1="308.00" x2="396.20" y2="308.00" stroke="#333" stroke-width="0.8"/>
<line x1="337.90" y1="397.80" x2="337.90" y2="399.60" stroke="#555" stroke-width="0.8"/>
<line x1="360.65" y1="397.80" x2="360.65" y2="399.60" stroke="#555" stroke-width="0.8"/>
<line x1="383.40" y1="397.80" x2="383.40" y2="399.60" stroke="#555" stroke-width="0.8"/>
<text x="327.00" y="407.11" text-anchor="middle" font-size="7.0" fill="#222" stroke="#222">Co</text>
<text x="349.30" y="407.11" text-anchor="middle" font-size="7.0" fill="#222" stroke="#222">60</text>
<text x="372.30" y="407.11" text-anchor="middle" font-size="7.0" fill="#222" stroke="#222">Co</text>
<text x="394.30" y="407.11" text-anchor="middle" font-size="7.0" fill="#222" stroke="#222">60</text>
<line x1="320.50" y1="411.90" x2="353.00" y2="411.90" stroke="#7a7a7a" stroke-width="1.8"/>
<line x1="367.00" y1="411.90" x2="398.80" y2="411.90" stroke="#7a7a7a" stroke-width="1.8"/>
<text x="338.80" y="423.41" text-anchor="middle" font-size="7.0" fill="#222" stroke="#222">WT</text>
<text x="384.50" y="423.51" text-anchor="middle" font-size="7.0" fill="#222" stroke="#222">Npm<tspan font-size="4.8" dy="-2.7">+/-</tspan></text>
<text x="317.50" y="309.69" text-anchor="start" font-size="7.5" font-weight="bold" fill="#000" stroke="#000">KC</text>
<line x1="411.80" y1="301.50" x2="411.80" y2="397.80" stroke="#7a7a7a" stroke-width="0.8"/>
<line x1="411.80" y1="397.80" x2="501.50" y2="397.80" stroke="#333" stroke-width="1.0"/>
<line x1="410.30" y1="397.80" x2="411.80" y2="397.80" stroke="#a0a0a0" stroke-width="0.7"/>
<line x1="410.30" y1="381.85" x2="411.80" y2="381.85" stroke="#a0a0a0" stroke-width="0.7"/>
<line x1="410.30" y1="365.90" x2="411.80" y2="365.90" stroke="#a0a0a0" stroke-width="0.7"/>
<line x1="410.30" y1="349.95" x2="411.80" y2="349.95" stroke="#a0a0a0" stroke-width="0.7"/>
<line x1="410.30" y1="334.00" x2="411.80" y2="334.00" stroke="#a0a0a0" stroke-width="0.7"/>
<line x1="410.30" y1="318.05" x2="411.80" y2="318.05" stroke="#a0a0a0" stroke-width="0.7"/>
<line x1="410.30" y1="302.10" x2="411.80" y2="302.10" stroke="#a0a0a0" stroke-width="0.7"/>
<rect x="418.50" y="392.40" width="9.20" height="5.40" fill="#000"/>
<rect x="441.50" y="379.70" width="8.50" height="18.10" fill="#000"/>
<line x1="445.75" y1="379.70" x2="445.75" y2="377.00" stroke="#333" stroke-width="0.8"/>
<line x1="444.45" y1="377.00" x2="447.05" y2="377.00" stroke="#333" stroke-width="0.8"/>
<rect x="464.00" y="378.00" width="8.70" height="19.80" fill="#000"/>
<line x1="468.35" y1="378.00" x2="468.35" y2="375.00" stroke="#333" stroke-width="0.8"/>
<line x1="467.05" y1="375.00" x2="469.65" y2="375.00" stroke="#333" stroke-width="0.8"/>
<rect x="486.50" y="350.40" width="8.80" height="47.40" fill="#000"/>
<line x1="490.90" y1="350.40" x2="490.90" y2="348.80" stroke="#333" stroke-width="0.8"/>
<line x1="489.60" y1="348.80" x2="492.20" y2="348.80" stroke="#333" stroke-width="0.8"/>
<line x1="434.43" y1="397.80" x2="434.43" y2="399.60" stroke="#555" stroke-width="0.8"/>
<line x1="457.05" y1="397.80" x2="457.05" y2="399.60" stroke="#555" stroke-width="0.8"/>
<line x1="479.62" y1="397.80" x2="479.62" y2="399.60" stroke="#555" stroke-width="0.8"/>
<text x="424.20" y="407.11" text-anchor="middle" font-size="7.0" fill="#222" stroke="#222">Co</text>
<text x="445.70" y="407.11" text-anchor="middle" font-size="7.0" fill="#222" stroke="#222">60</text>
<text x="469.00" y="407.11" text-anchor="middle" font-size="7.0" fill="#222" stroke="#222">Co</text>
<text x="491.00" y="407.11" text-anchor="middle" font-size="7.0" fill="#222" stroke="#222">60</text>
<line x1="417.30" y1="411.90" x2="449.60" y2="411.90" stroke="#7a7a7a" stroke-width="1.8"/>
<line x1="463.50" y1="411.90" x2="495.80" y2="411.90" stroke="#7a7a7a" stroke-width="1.8"/>
<text x="435.00" y="423.41" text-anchor="middle" font-size="7.0" fill="#222" stroke="#222">WT</text>
<text x="481.00" y="423.51" text-anchor="middle" font-size="7.0" fill="#222" stroke="#222">Npm<tspan font-size="4.8" dy="-2.7">+/-</tspan></text>
<text x="413.80" y="309.69" text-anchor="start" font-size="7.5" font-weight="bold" fill="#000" stroke="#000">MCP1</text>
<text transform="translate(205.98,345.50) rotate(-90)" x="0" y="0" text-anchor="middle" font-size="7.2" font-weight="bold" fill="#000" stroke="#000">Signal intensity (AU)</text>
<text x="203.40" y="448.39" text-anchor="middle" font-size="17.0" font-weight="bold" fill="#000" stroke="#000">E</text>
<line x1="218.80" y1="462.00" x2="218.80" y2="560.50" stroke="#a0a0a0" stroke-width="0.8"/>
<line x1="218.80" y1="560.50" x2="362.00" y2="560.50" stroke="#9a9a9a" stroke-width="0.8" stroke-dasharray="1.2,1.0"/>
<text x="216.60" y="563.01" text-anchor="end" font-size="7.0" fill="#222" stroke="#222">0</text>
<text x="216.60" y="531.61" text-anchor="end" font-size="7.0" fill="#222" stroke="#222">30</text>
<text x="216.60" y="500.21" text-anchor="end" font-size="7.0" fill="#222" stroke="#222">60</text>
<text x="216.60" y="468.81" text-anchor="end" font-size="7.0" fill="#222" stroke="#222">90</text>
<rect x="224.50" y="548.00" width="10.50" height="12.50" fill="#000"/>
<line x1="229.75" y1="548.00" x2="229.75" y2="546.60" stroke="#222" stroke-width="0.9"/>
<line x1="227.75" y1="546.60" x2="231.75" y2="546.60" stroke="#222" stroke-width="0.9"/>
<rect x="248.80" y="551.30" width="10.00" height="9.20" fill="#000"/>
<line x1="253.80" y1="551.30" x2="253.80" y2="549.80" stroke="#222" stroke-width="0.9"/>
<line x1="251.80" y1="549.80" x2="255.80" y2="549.80" stroke="#222" stroke-width="0.9"/>
<rect x="272.50" y="553.30" width="10.50" height="7.20" fill="#000"/>
<line x1="277.75" y1="553.30" x2="277.75" y2="552.60" stroke="#222" stroke-width="0.9"/>
<line x1="275.75" y1="552.60" x2="279.75" y2="552.60" stroke="#222" stroke-width="0.9"/>
<rect x="297.30" y="535.40" width="9.90" height="25.10" fill="#000"/>
<line x1="302.25" y1="535.40" x2="302.25" y2="528.50" stroke="#222" stroke-width="0.9"/>
<line x1="300.25" y1="528.50" x2="304.25" y2="528.50" stroke="#222" stroke-width="0.9"/>
<rect x="321.00" y="490.40" width="10.20" height="70.10" fill="#000"/>
<line x1="326.10" y1="490.40" x2="326.10" y2="478.80" stroke="#222" stroke-width="0.9"/>
<line x1="324.10" y1="478.80" x2="328.10" y2="478.80" stroke="#222" stroke-width="0.9"/>
<rect x="345.10" y="534.70" width="9.90" height="25.80" fill="#000"/>
<line x1="350.05" y1="534.70" x2="350.05" y2="524.50" stroke="#222" stroke-width="0.9"/>
<line x1="348.05" y1="524.50" x2="352.05" y2="524.50" stroke="#222" stroke-width="0.9"/>
<path d="M301.9,520.4 L301.9,467.3 L326.2,467.3 L326.2,475.4" fill="none" stroke="#222" stroke-width="1.0"/>
<text x="313.80" y="466.91" text-anchor="middle" font-size="7.3" font-weight="bold" fill="#222" stroke="#222">****</text>
<text x="229.50" y="569.31" text-anchor="middle" font-size="7.0" fill="#222" stroke="#222">WT</text>
<text x="302.00" y="569.31" text-anchor="middle" font-size="7.0" fill="#222" stroke="#222">WT</text>
<text x="250.80" y="569.11" text-anchor="middle" font-size="7.0" fill="#222" stroke="#222">Npm<tspan font-size="4.8" dy="-2.7">+/-</tspan></text>
<text x="326.00" y="569.11" text-anchor="middle" font-size="7.0" fill="#222" stroke="#222">Npm<tspan font-size="4.8" dy="-2.7">+/-</tspan></text>
<text x="278.40" y="569.31" text-anchor="middle" font-size="7.0" fill="#222" stroke="#222">TLRmut</text>
<text x="349.60" y="569.31" text-anchor="middle" font-size="7.0" fill="#222" stroke="#222">TLRmut</text>
<line x1="222.50" y1="572.80" x2="286.30" y2="572.80" stroke="#222" stroke-width="1.4"/>
<line x1="296.20" y1="572.80" x2="359.60" y2="572.80" stroke="#222" stroke-width="1.4"/>
<text x="255.50" y="582.01" text-anchor="middle" font-size="7.0" fill="#222" stroke="#222">Co</text>
<text x="333.30" y="581.71" text-anchor="middle" font-size="7.0" font-weight="bold" fill="#000" stroke="#000">30min LPS</text>
<text x="220.80" y="477.01" text-anchor="start" font-size="7.0" font-weight="bold" fill="#000" stroke="#000">IL-6</text>
<text transform="translate(205.11,512.00) rotate(-90)" x="0" y="0" text-anchor="middle" font-size="7.0" font-weight="bold" fill="#000" stroke="#000">(pg/mL)</text>
<line x1="393.10" y1="467.50" x2="393.10" y2="561.00" stroke="#333" stroke-width="1.0"/>
<line x1="393.10" y1="561.00" x2="502.70" y2="561.00" stroke="#333" stroke-width="1.0"/>
<line x1="391.30" y1="561.00" x2="393.10" y2="561.00" stroke="#333" stroke-width="0.8"/>
<text x="391.20" y="563.51" text-anchor="end" font-size="7.0" fill="#222" stroke="#222">0</text>
<line x1="391.30" y1="547.81" x2="393.10" y2="547.81" stroke="#333" stroke-width="0.8"/>
<text x="391.20" y="550.32" text-anchor="end" font-size="7.0" fill="#222" stroke="#222">2</text>
<line x1="391.30" y1="534.63" x2="393.10" y2="534.63" stroke="#333" stroke-width="0.8"/>
<text x="391.20" y="537.13" text-anchor="end" font-size="7.0" fill="#222" stroke="#222">4</text>
<line x1="391.30" y1="521.44" x2="393.10" y2="521.44" stroke="#333" stroke-width="0.8"/>
<text x="391.20" y="523.95" text-anchor="end" font-size="7.0" fill="#222" stroke="#222">6</text>
<line x1="391.30" y1="508.26" x2="393.10" y2="508.26" stroke="#333" stroke-width="0.8"/>
<text x="391.20" y="510.76" text-anchor="end" font-size="7.0" fill="#222" stroke="#222">8</text>
<line x1="391.30" y1="495.07" x2="393.10" y2="495.07" stroke="#333" stroke-width="0.8"/>
<text x="391.20" y="497.58" text-anchor="end" font-size="7.0" fill="#222" stroke="#222">10</text>
<line x1="391.30" y1="481.89" x2="393.10" y2="481.89" stroke="#333" stroke-width="0.8"/>
<text x="391.20" y="484.39" text-anchor="end" font-size="7.0" fill="#222" stroke="#222">12</text>
<line x1="391.30" y1="468.70" x2="393.10" y2="468.70" stroke="#333" stroke-width="0.8"/>
<text x="391.20" y="471.21" text-anchor="end" font-size="7.0" fill="#222" stroke="#222">14</text>
<rect x="404.00" y="550.00" width="14.50" height="11.00" fill="#000"/>
<line x1="411.25" y1="550.00" x2="411.25" y2="547.10" stroke="#555" stroke-width="0.9"/>
<line x1="409.25" y1="547.10" x2="413.25" y2="547.10" stroke="#555" stroke-width="0.9"/>
<rect x="440.70" y="498.10" width="14.40" height="62.90" fill="#000"/>
<line x1="447.90" y1="498.10" x2="447.90" y2="478.80" stroke="#555" stroke-width="0.9"/>
<line x1="445.90" y1="478.80" x2="449.90" y2="478.80" stroke="#555" stroke-width="0.9"/>
<rect x="476.70" y="553.80" width="14.50" height="7.20" fill="#000"/>
<path d="M411.8,521.2 L411.8,470.1 L447.9,470.1 L447.9,475.9" fill="none" stroke="#222" stroke-width="1.0"/>
<text x="429.80" y="469.61" text-anchor="middle" font-size="7.3" font-weight="bold" fill="#222" stroke="#222">****</text>
<text x="395.30" y="475.61" text-anchor="start" font-size="7.3" font-weight="bold" fill="#000" stroke="#000">KC</text>
<text x="416.20" y="573.51" text-anchor="middle" font-size="7.0" fill="#222" stroke="#222">WT</text>
<text x="447.90" y="573.51" text-anchor="middle" font-size="7.0" fill="#222" stroke="#222">Npm+/-</text>
<text x="485.40" y="573.51" text-anchor="middle" font-size="7.0" fill="#222" stroke="#222">TLR</text>
<text transform="translate(378.72,517.50) rotate(-90)" x="0" y="0" text-anchor="middle" font-size="7.6" font-weight="bold" fill="#000" stroke="#000">Fold increase (AU)</text>
</svg>
</body></html>
